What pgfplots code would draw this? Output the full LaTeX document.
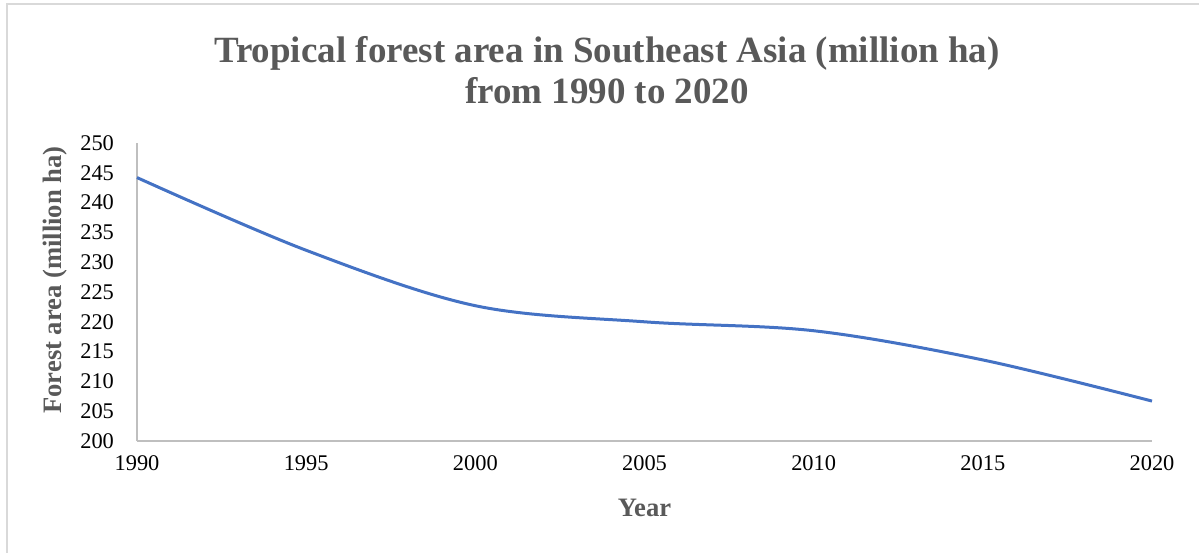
\documentclass[border=0pt]{standalone}
\usepackage{pgfplots}
\pgfplotsset{compat=1.18}
\usepackage{fontspec}
\setmainfont{Liberation Serif}
\definecolor{linecol}{HTML}{4472C4}
\definecolor{axcol}{HTML}{BFBFBF}
\definecolor{txtgray}{HTML}{595959}
\definecolor{framecol}{HTML}{D9D9D9}
\begin{document}
\begin{tikzpicture}
\path[use as bounding box] (0pt,0pt) rectangle (599.5pt,276pt);
\draw[framecol,line width=1pt] (3.5pt,-3pt) -- (3.5pt,274pt) -- (605pt,274pt);
\node[font=\bfseries\fontsize{18.5}{20.5}\selectfont,text=txtgray,align=center,anchor=center] at (303.5pt,241pt) {Tropical forest area in Southeast Asia (million ha)\\from 1990 to 2020};
\begin{axis}[
  at={(68.5pt,55.5pt)}, anchor=south west,
  scale only axis, width=507.5pt, height=149pt,
  xmin=1990, xmax=2020, ymin=200, ymax=250,
  xtick={1990,1995,...,2020}, ytick={200,205,...,250},
  axis x line*=bottom, axis y line*=left,
  axis line style={axcol,line width=0.8pt,-},
  major tick length=0pt,
  tick label style={font=\fontsize{11.2}{12}\selectfont,text=black},
  /pgf/number format/assume math mode=true,
  /pgf/number format/1000 sep={},
  xticklabel style={yshift=-4pt},
  yticklabel style={xshift=-8pt},
  xlabel={Year}, ylabel={Forest area (million ha)},
  label style={font=\bfseries\fontsize{13.3}{14}\selectfont,text=txtgray},
  xlabel style={yshift=-7pt},
  ylabel style={yshift=-0.5pt, xshift=6pt},
  clip=false,
]
\addplot[linecol, line width=1.5pt, smooth, tension=0.55] coordinates {
(1990,244.2) (1995,232.0) (2000,222.7) (2005,220.0) (2010,218.5) (2015,213.6) (2020,206.7)
};
\end{axis}
\end{tikzpicture}
\end{document}
